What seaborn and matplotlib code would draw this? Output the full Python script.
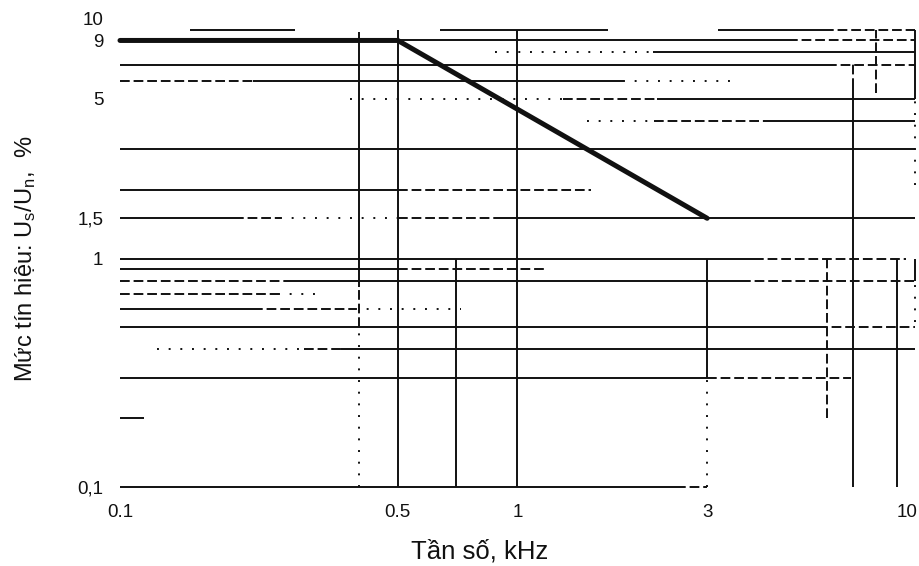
import matplotlib
matplotlib.use("Agg")
import matplotlib.pyplot as plt
import matplotlib.transforms as mtransforms
from matplotlib.ticker import NullLocator
import seaborn as sns

sns.set_theme(style="white")
plt.rcParams['font.family'] = ['Liberation Sans', 'DejaVu Sans']
plt.rcParams['mathtext.fontset'] = 'custom'
plt.rcParams['mathtext.rm'] = 'Liberation Sans'
plt.rcParams['mathtext.default'] = 'rm'

# limit curve (thick line): frequency kHz / level %
curve_freq = [0.1, 0.5, 3]
curve_level = [9, 9, 1.5]

x_ticks = [0.1, 0.5, 1, 3, 10]
x_ticklabels = ["0.1", "0.5", "1", "3", "10"]
y_ticks = [0.1, 1, 1.5, 5, 9, 10]
y_ticklabels = ["0,1", "1", "1,5", "5", "9", "10"]

# what is left of the log grid in the scan
# horizontal pieces: (level, from kHz, to kHz)
solid_h = [(10, 0.15, 0.276), (10, 0.64, 1.69), (10, 3.2, 5.9), (9, 0.5, 4.8),
           (8, 2.19, 10), (7, 0.1, 6), (6, 0.216, 1.84), (5, 2.25, 10),
           (4, 4.34, 10), (3, 0.1, 10), (2, 0.1, 0.5), (1.5, 0.1, 0.193),
           (1.5, 0.91, 10), (1, 0.1, 3.93), (0.9, 0.1, 0.5), (0.8, 0.273, 3.65),
           (0.6, 0.1, 0.216), (0.5, 0.1, 5.7), (0.4, 0.36, 10), (0.3, 0.1, 3),
           (0.2, 0.1, 0.115), (0.1, 0.1, 2.5)]
dashed_h = [(10, 5.9, 10), (9, 4.8, 10), (7, 6, 10), (6, 0.1, 0.216),
            (5, 1.3, 2.25), (4, 2.2, 4.34), (2, 0.5, 1.53), (1.5, 0.193, 0.253),
            (1.5, 0.5, 0.91), (1, 3.93, 9.5), (0.9, 0.5, 1.18), (0.8, 0.1, 0.273),
            (0.8, 3.65, 10), (0.7, 0.1, 0.25), (0.6, 0.216, 0.39), (0.5, 5.7, 10),
            (0.4, 0.29, 0.36), (0.3, 3, 6.9), (0.1, 2.5, 3)]
dotted_h = [(8, 0.88, 2.19), (6, 1.84, 3.6), (5, 0.38, 1.3), (4, 1.5, 2.2),
            (1.5, 0.253, 0.5), (0.7, 0.25, 0.31), (0.6, 0.39, 0.72),
            (0.4, 0.124, 0.29)]

# vertical pieces: (frequency, from %, to %)
solid_v = [(0.4, 0.75, 9.8), (0.5, 0.1, 10), (0.7, 0.1, 1), (1, 0.1, 10),
           (3, 0.3, 1), (7, 0.1, 5.6), (9, 0.1, 1), (10, 5, 10), (10, 0.8, 1)]
dashed_v = [(0.4, 0.5, 0.75), (6, 0.2, 1), (7, 5.6, 7.2), (8, 5.3, 10)]
dotted_v = [(0.4, 0.1, 0.5), (3, 0.1, 0.3), (10, 2.1, 5), (10, 0.53, 0.8)]

ink = "#111111"
fig = plt.figure(figsize=(9.2, 5.66), dpi=100)
ax = fig.add_axes([120 / 920, 1 - 487 / 566, 795 / 920, 457 / 566])
ax.set_xscale("log")
ax.set_yscale("log")
ax.set_xlim(0.1, 10)
ax.set_ylim(0.1, 10)

styles = {"solid": "-", "dashed": (0, (5, 2)), "dotted": (0, (1, 5))}
for pieces, ls in [(solid_h, "solid"), (dashed_h, "dashed"), (dotted_h, "dotted")]:
    ax.hlines([p[0] for p in pieces], [p[1] for p in pieces], [p[2] for p in pieces],
              colors=ink, linewidth=1.4, linestyles=styles[ls], clip_on=False)
for pieces, ls in [(solid_v, "solid"), (dashed_v, "dashed"), (dotted_v, "dotted")]:
    ax.vlines([p[0] for p in pieces], [p[1] for p in pieces], [p[2] for p in pieces],
              colors=ink, linewidth=1.4, linestyles=styles[ls], clip_on=False)

sns.lineplot(x=curve_freq, y=curve_level, ax=ax, color=ink, linewidth=3.6,
             sort=False, zorder=5, clip_on=False)

for s in ax.spines.values():
    s.set_visible(False)
ax.xaxis.set_minor_locator(NullLocator())
ax.yaxis.set_minor_locator(NullLocator())
ax.set_xticks(x_ticks)
ax.set_xticklabels(x_ticklabels)
ax.set_yticks(y_ticks)
ax.set_yticklabels(y_ticklabels)
ax.tick_params(axis="both", length=0, labelsize=13.5, colors=ink)
ax.tick_params(axis="x", pad=12)
ax.tick_params(axis="y", pad=12)

# the "10" labels are nudged like in the original
lbl = ax.get_yticklabels()[-1]
lbl.set_transform(lbl.get_transform() + mtransforms.ScaledTranslation(0, 8 / 72, fig.dpi_scale_trans))
lbl = ax.get_xticklabels()[-1]
lbl.set_transform(lbl.get_transform() + mtransforms.ScaledTranslation(-6 / 72, 0, fig.dpi_scale_trans))

ax.set_xlabel("Tần số, kHz", fontsize=18.5, color=ink)
ax.xaxis.set_label_coords(0.452, -0.115)
ax.set_ylabel("Mức tín hiệu: U$_s$/U$_n$,  %", fontsize=17, color=ink, labelpad=28)

fig.savefig("out.png", dpi=100)
